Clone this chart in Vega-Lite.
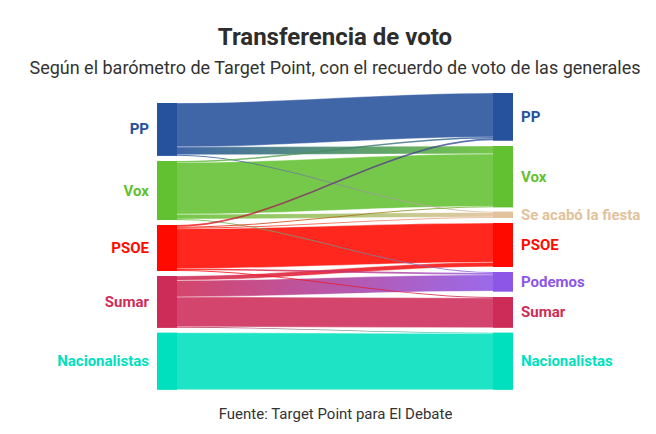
{
"$schema": "https://vega.github.io/schema/vega-lite/v6.json",
"width": 356, "height": 297,
"autosize": "none",
"padding": {"left": 157, "top": 93, "right": 143, "bottom": 44},
"background": "white",
"title": {"text": "Transferencia de voto", "subtitle": "Según el barómetro de Target Point, con el recuerdo de voto de las generales", "anchor": "middle", "frame": "group", "font": "Roboto", "fontSize": 24, "fontWeight": "bold", "color": "#2d2d2d", "subtitleFont": "Roboto", "subtitleFontSize": 18, "subtitleColor": "#333333", "subtitlePadding": 10, "offset": 13},
"config": {"view": {"stroke": null}, "axisX": {"labels": false, "ticks": false, "domain": false, "grid": false, "titleFont": "Roboto", "titleFontSize": 15, "titleFontWeight": "normal", "titleColor": "#333333", "titlePadding": 16}},
"datasets": {
"flows": [
{"f":"PP>PP","s":"PP","x":0,"a":10,"b":54},{"f":"PP>PP","s":"PP","x":20,"a":10,"b":54},{"f":"PP>PP","s":"PP","x":336,"a":0,"b":44},{"f":"PP>PP","s":"PP","x":356,"a":0,"b":44},
{"f":"PP>Vox","s":"PP","x":0,"a":54,"b":61.8},{"f":"PP>Vox","s":"PP","x":20,"a":54,"b":61.8},{"f":"PP>Vox","s":"PP","x":336,"a":53,"b":60.8},{"f":"PP>Vox","s":"PP","x":356,"a":53,"b":60.8},
{"f":"PP>SALF","s":"PP","x":0,"a":61.8,"b":62.7},{"f":"PP>SALF","s":"PP","x":20,"a":61.8,"b":62.7},{"f":"PP>SALF","s":"PP","x":336,"a":118.7,"b":119.6},{"f":"PP>SALF","s":"PP","x":356,"a":118.7,"b":119.6},
{"f":"Vox>PP","s":"Vox","x":0,"a":68,"b":69.5},{"f":"Vox>PP","s":"Vox","x":20,"a":68,"b":69.5},{"f":"Vox>PP","s":"Vox","x":336,"a":44,"b":45.5},{"f":"Vox>PP","s":"Vox","x":356,"a":44,"b":45.5},
{"f":"Vox>Vox","s":"Vox","x":0,"a":69.5,"b":121.3},{"f":"Vox>Vox","s":"Vox","x":20,"a":69.5,"b":121.3},{"f":"Vox>Vox","s":"Vox","x":336,"a":60.8,"b":113.3},{"f":"Vox>Vox","s":"Vox","x":356,"a":60.8,"b":113.3},
{"f":"Vox>SALF","s":"Vox","x":0,"a":121.3,"b":126},{"f":"Vox>SALF","s":"Vox","x":20,"a":121.3,"b":126},{"f":"Vox>SALF","s":"Vox","x":336,"a":119.4,"b":124.1},{"f":"Vox>SALF","s":"Vox","x":356,"a":119.4,"b":124.1},
{"f":"Vox>Pod","s":"Vox","x":0,"a":126,"b":127},{"f":"Vox>Pod","s":"Vox","x":20,"a":126,"b":127},{"f":"Vox>Pod","s":"Vox","x":336,"a":179,"b":180},{"f":"Vox>Pod","s":"Vox","x":356,"a":179,"b":180},
{"f":"PSOE>PP","s":"PSOE","x":0,"a":132,"b":133.8},{"f":"PSOE>PP","s":"PSOE","x":20,"a":132,"b":133.8},{"f":"PSOE>PP","s":"PSOE","x":336,"a":45.5,"b":47.3},{"f":"PSOE>PP","s":"PSOE","x":356,"a":45.5,"b":47.3},
{"f":"PSOE>Vox","s":"PSOE","x":0,"a":133.8,"b":134.8},{"f":"PSOE>Vox","s":"PSOE","x":20,"a":133.8,"b":134.8},{"f":"PSOE>Vox","s":"PSOE","x":336,"a":113.3,"b":114.3},{"f":"PSOE>Vox","s":"PSOE","x":356,"a":113.3,"b":114.3},
{"f":"PSOE>SALF","s":"PSOE","x":0,"a":134.8,"b":135.8},{"f":"PSOE>SALF","s":"PSOE","x":20,"a":134.8,"b":135.8},{"f":"PSOE>SALF","s":"PSOE","x":336,"a":123.9,"b":124.9},{"f":"PSOE>SALF","s":"PSOE","x":356,"a":123.9,"b":124.9},
{"f":"PSOE>PSOE","s":"PSOE","x":0,"a":135.8,"b":175.6},{"f":"PSOE>PSOE","s":"PSOE","x":20,"a":135.8,"b":175.6},{"f":"PSOE>PSOE","s":"PSOE","x":336,"a":130,"b":169.3},{"f":"PSOE>PSOE","s":"PSOE","x":356,"a":130,"b":169.3},
{"f":"PSOE>Pod","s":"PSOE","x":0,"a":175.6,"b":177.1},{"f":"PSOE>Pod","s":"PSOE","x":20,"a":175.6,"b":177.1},{"f":"PSOE>Pod","s":"PSOE","x":336,"a":180,"b":181.7},{"f":"PSOE>Pod","s":"PSOE","x":356,"a":180,"b":181.7},
{"f":"PSOE>Sumar","s":"PSOE","x":0,"a":177.1,"b":178},{"f":"PSOE>Sumar","s":"PSOE","x":20,"a":177.1,"b":178},{"f":"PSOE>Sumar","s":"PSOE","x":336,"a":204,"b":204.9},{"f":"PSOE>Sumar","s":"PSOE","x":356,"a":204,"b":204.9},
{"f":"Sumar>PSOE","s":"Sumar","x":0,"a":183,"b":187.5},{"f":"Sumar>PSOE","s":"Sumar","x":20,"a":183,"b":187.5},{"f":"Sumar>PSOE","s":"Sumar","x":336,"a":169.3,"b":173.8},{"f":"Sumar>PSOE","s":"Sumar","x":356,"a":169.3,"b":173.8},
{"f":"Sumar>Pod","s":"Sumar","x":0,"a":187.5,"b":203.9},{"f":"Sumar>Pod","s":"Sumar","x":20,"a":187.5,"b":203.9},{"f":"Sumar>Pod","s":"Sumar","x":336,"a":181.7,"b":198.1},{"f":"Sumar>Pod","s":"Sumar","x":356,"a":181.7,"b":198.1},
{"f":"Sumar>Sumar","s":"Sumar","x":0,"a":203.9,"b":233.8},{"f":"Sumar>Sumar","s":"Sumar","x":20,"a":203.9,"b":233.8},{"f":"Sumar>Sumar","s":"Sumar","x":336,"a":204.9,"b":234.7},{"f":"Sumar>Sumar","s":"Sumar","x":356,"a":204.9,"b":234.7},
{"f":"Sumar>Nac","s":"Sumar","x":0,"a":233.8,"b":234.7},{"f":"Sumar>Nac","s":"Sumar","x":20,"a":233.8,"b":234.7},{"f":"Sumar>Nac","s":"Sumar","x":336,"a":239.7,"b":240.6},{"f":"Sumar>Nac","s":"Sumar","x":356,"a":239.7,"b":240.6},
{"f":"Nac>Nac","s":"Nac","x":0,"a":239.7,"b":296.7},{"f":"Nac>Nac","s":"Nac","x":20,"a":239.7,"b":296.7},{"f":"Nac>Nac","s":"Nac","x":336,"a":240.6,"b":296.7},{"f":"Nac>Nac","s":"Nac","x":356,"a":240.6,"b":296.7}
],
"nodes": [
{"p":"PP","n":"PP","side":"L","x0":0,"x1":20,"y0":10,"y1":62.7,"m":36.35},
{"p":"Vox","n":"Vox","side":"L","x0":0,"x1":20,"y0":68,"y1":127,"m":97.5},
{"p":"PSOE","n":"PSOE","side":"L","x0":0,"x1":20,"y0":132,"y1":178,"m":155},
{"p":"Sumar","n":"Sumar","side":"L","x0":0,"x1":20,"y0":183,"y1":234.7,"m":208.85},
{"p":"Nac","n":"Nacionalistas","side":"L","x0":0,"x1":20,"y0":239.7,"y1":296.7,"m":268.2},
{"p":"PP","n":"PP","side":"R","x0":336,"x1":356,"y0":0,"y1":47.7,"m":23.85},
{"p":"Vox","n":"Vox","side":"R","x0":336,"x1":356,"y0":53,"y1":114.3,"m":83.65},
{"p":"SALF","n":"Se acabó la fiesta","side":"R","x0":336,"x1":356,"y0":118.7,"y1":124.9,"m":121.8},
{"p":"PSOE","n":"PSOE","side":"R","x0":336,"x1":356,"y0":130,"y1":174,"m":152},
{"p":"Podemos","n":"Podemos","side":"R","x0":336,"x1":356,"y0":179,"y1":198.7,"m":188.85},
{"p":"Sumar","n":"Sumar","side":"R","x0":336,"x1":356,"y0":204,"y1":234.7,"m":219.35},
{"p":"Nac","n":"Nacionalistas","side":"R","x0":336,"x1":356,"y0":239.7,"y1":296.7,"m":268.2}
]
},
"layer": [
{
"data": {"name": "flows"},
"encoding": {
"x": {"field": "x", "type": "quantitative", "scale": {"domain": [0, 356]}, "title": "Fuente: Target Point para El Debate"},
"y": {"field": "a", "type": "quantitative", "stack": null, "scale": {"domain": [0, 297], "reverse": true}, "axis": null},
"y2": {"field": "b"},
"detail": {"field": "f"}
},
"layer": [
{"transform": [{"filter": {"field": "f", "oneOf": ["PP>PP", "Vox>Vox", "PSOE>PSOE", "Sumar>Sumar", "Nac>Nac"]}}],
 "mark": {"type": "area", "interpolate": "monotone", "opacity": 0.88, "stroke": "white", "strokeWidth": 0.8, "strokeOpacity": 0.5},
 "encoding": {"color": {"field": "s", "type": "nominal", "legend": null, "scale": {"domain": ["PP", "Vox", "SALF", "PSOE", "Podemos", "Sumar", "Nac"], "range": ["#26519D", "#62C130", "#E2C29C", "#FF0A00", "#8E56E6", "#CE2C58", "#00E0BE"]}}}},
{"transform": [{"filter": {"field": "f", "equal": "PP>Vox"}}], "mark": {"type": "area", "interpolate": "monotone", "opacity": 0.88, "stroke": "white", "strokeWidth": 0.8, "strokeOpacity": 0.5, "fill": {"gradient": "linear", "x1": 0, "x2": 1, "y1": 0, "y2": 0, "stops": [{"offset": 0.06, "color": "#26519D"}, {"offset": 0.94, "color": "#62C130"}]}}},
{"transform": [{"filter": {"field": "f", "equal": "Vox>SALF"}}], "mark": {"type": "area", "interpolate": "monotone", "opacity": 0.88, "stroke": "white", "strokeWidth": 0.8, "strokeOpacity": 0.5, "fill": {"gradient": "linear", "x1": 0, "x2": 1, "y1": 0, "y2": 0, "stops": [{"offset": 0.06, "color": "#62C130"}, {"offset": 0.94, "color": "#E2C29C"}]}}},
{"transform": [{"filter": {"field": "f", "equal": "Sumar>PSOE"}}], "mark": {"type": "area", "interpolate": "monotone", "opacity": 0.88, "stroke": "white", "strokeWidth": 0.8, "strokeOpacity": 0.5, "fill": {"gradient": "linear", "x1": 0, "x2": 1, "y1": 0, "y2": 0, "stops": [{"offset": 0.06, "color": "#CE2C58"}, {"offset": 0.94, "color": "#FF0A00"}]}}},
{"transform": [{"filter": {"field": "f", "equal": "Sumar>Pod"}}], "mark": {"type": "area", "interpolate": "monotone", "opacity": 0.88, "stroke": "white", "strokeWidth": 0.8, "strokeOpacity": 0.5, "fill": {"gradient": "linear", "x1": 0, "x2": 1, "y1": 0, "y2": 0, "stops": [{"offset": 0.06, "color": "#CE2C58"}, {"offset": 0.94, "color": "#8E56E6"}]}}},
{"transform": [{"filter": {"field": "f", "equal": "PP>SALF"}}], "mark": {"type": "area", "interpolate": "monotone", "opacity": 0.8, "fill": {"gradient": "linear", "x1": 0, "x2": 1, "y1": 0, "y2": 0, "stops": [{"offset": 0.06, "color": "#26519D"}, {"offset": 0.94, "color": "#E2C29C"}]}}},
{"transform": [{"filter": {"field": "f", "equal": "Vox>PP"}}], "mark": {"type": "area", "interpolate": "monotone", "opacity": 0.8, "fill": {"gradient": "linear", "x1": 0, "x2": 1, "y1": 0, "y2": 0, "stops": [{"offset": 0.06, "color": "#62C130"}, {"offset": 0.94, "color": "#26519D"}]}}},
{"transform": [{"filter": {"field": "f", "equal": "Vox>Pod"}}], "mark": {"type": "area", "interpolate": "monotone", "opacity": 0.8, "fill": {"gradient": "linear", "x1": 0, "x2": 1, "y1": 0, "y2": 0, "stops": [{"offset": 0.06, "color": "#62C130"}, {"offset": 0.94, "color": "#8E56E6"}]}}},
{"transform": [{"filter": {"field": "f", "equal": "PSOE>PP"}}], "mark": {"type": "area", "interpolate": "monotone", "opacity": 0.8, "fill": {"gradient": "linear", "x1": 0, "x2": 1, "y1": 0, "y2": 0, "stops": [{"offset": 0.06, "color": "#FF0A00"}, {"offset": 0.5, "color": "#6A3A80"}, {"offset": 0.94, "color": "#26519D"}]}}},
{"transform": [{"filter": {"field": "f", "equal": "PSOE>Vox"}}], "mark": {"type": "area", "interpolate": "monotone", "opacity": 0.8, "fill": {"gradient": "linear", "x1": 0, "x2": 1, "y1": 0, "y2": 0, "stops": [{"offset": 0.06, "color": "#FF0A00"}, {"offset": 0.94, "color": "#62C130"}]}}},
{"transform": [{"filter": {"field": "f", "equal": "PSOE>SALF"}}], "mark": {"type": "area", "interpolate": "monotone", "opacity": 0.8, "fill": {"gradient": "linear", "x1": 0, "x2": 1, "y1": 0, "y2": 0, "stops": [{"offset": 0.06, "color": "#FF0A00"}, {"offset": 0.94, "color": "#E2C29C"}]}}},
{"transform": [{"filter": {"field": "f", "equal": "PSOE>Pod"}}], "mark": {"type": "area", "interpolate": "monotone", "opacity": 0.8, "fill": {"gradient": "linear", "x1": 0, "x2": 1, "y1": 0, "y2": 0, "stops": [{"offset": 0.06, "color": "#FF0A00"}, {"offset": 0.94, "color": "#8E56E6"}]}}},
{"transform": [{"filter": {"field": "f", "equal": "PSOE>Sumar"}}], "mark": {"type": "area", "interpolate": "monotone", "opacity": 0.8, "fill": {"gradient": "linear", "x1": 0, "x2": 1, "y1": 0, "y2": 0, "stops": [{"offset": 0.06, "color": "#FF0A00"}, {"offset": 0.94, "color": "#CE2C58"}]}}},
{"transform": [{"filter": {"field": "f", "equal": "Sumar>Nac"}}], "mark": {"type": "area", "interpolate": "monotone", "opacity": 0.8, "fill": {"gradient": "linear", "x1": 0, "x2": 1, "y1": 0, "y2": 0, "stops": [{"offset": 0.06, "color": "#CE2C58"}, {"offset": 0.94, "color": "#00E0BE"}]}}}
]
},
{
"data": {"name": "nodes"},
"encoding": {
"y": {"field": "m", "type": "quantitative", "scale": {"domain": [0, 297], "reverse": true}, "axis": null},
"color": {"field": "p", "type": "nominal", "legend": null, "scale": {"domain": ["PP", "Vox", "SALF", "PSOE", "Podemos", "Sumar", "Nac"], "range": ["#26519D", "#62C130", "#E2C29C", "#FF0A00", "#8E56E6", "#CE2C58", "#00E0BE"]}}
},
"layer": [
{"mark": {"type": "rect"},
 "encoding": {"x": {"field": "x0", "type": "quantitative", "scale": {"domain": [0, 356]}, "title": "Fuente: Target Point para El Debate"}, "x2": {"field": "x1"}, "y": {"field": "y0", "type": "quantitative", "scale": {"domain": [0, 297], "reverse": true}, "axis": null}, "y2": {"field": "y1"}}},
{"transform": [{"filter": {"field": "side", "equal": "L"}}],
 "mark": {"type": "text", "align": "right", "baseline": "middle", "dx": -8, "font": "Roboto", "fontSize": 15, "fontWeight": "bold"},
 "encoding": {"x": {"field": "x0", "type": "quantitative", "scale": {"domain": [0, 356]}, "title": "Fuente: Target Point para El Debate"}, "text": {"field": "n"}}},
{"transform": [{"filter": {"field": "side", "equal": "R"}}],
 "mark": {"type": "text", "align": "left", "baseline": "middle", "dx": 8, "font": "Roboto", "fontSize": 15, "fontWeight": "bold"},
 "encoding": {"x": {"field": "x1", "type": "quantitative", "scale": {"domain": [0, 356]}, "title": "Fuente: Target Point para El Debate"}, "text": {"field": "n"}}}
]
}
]
}
